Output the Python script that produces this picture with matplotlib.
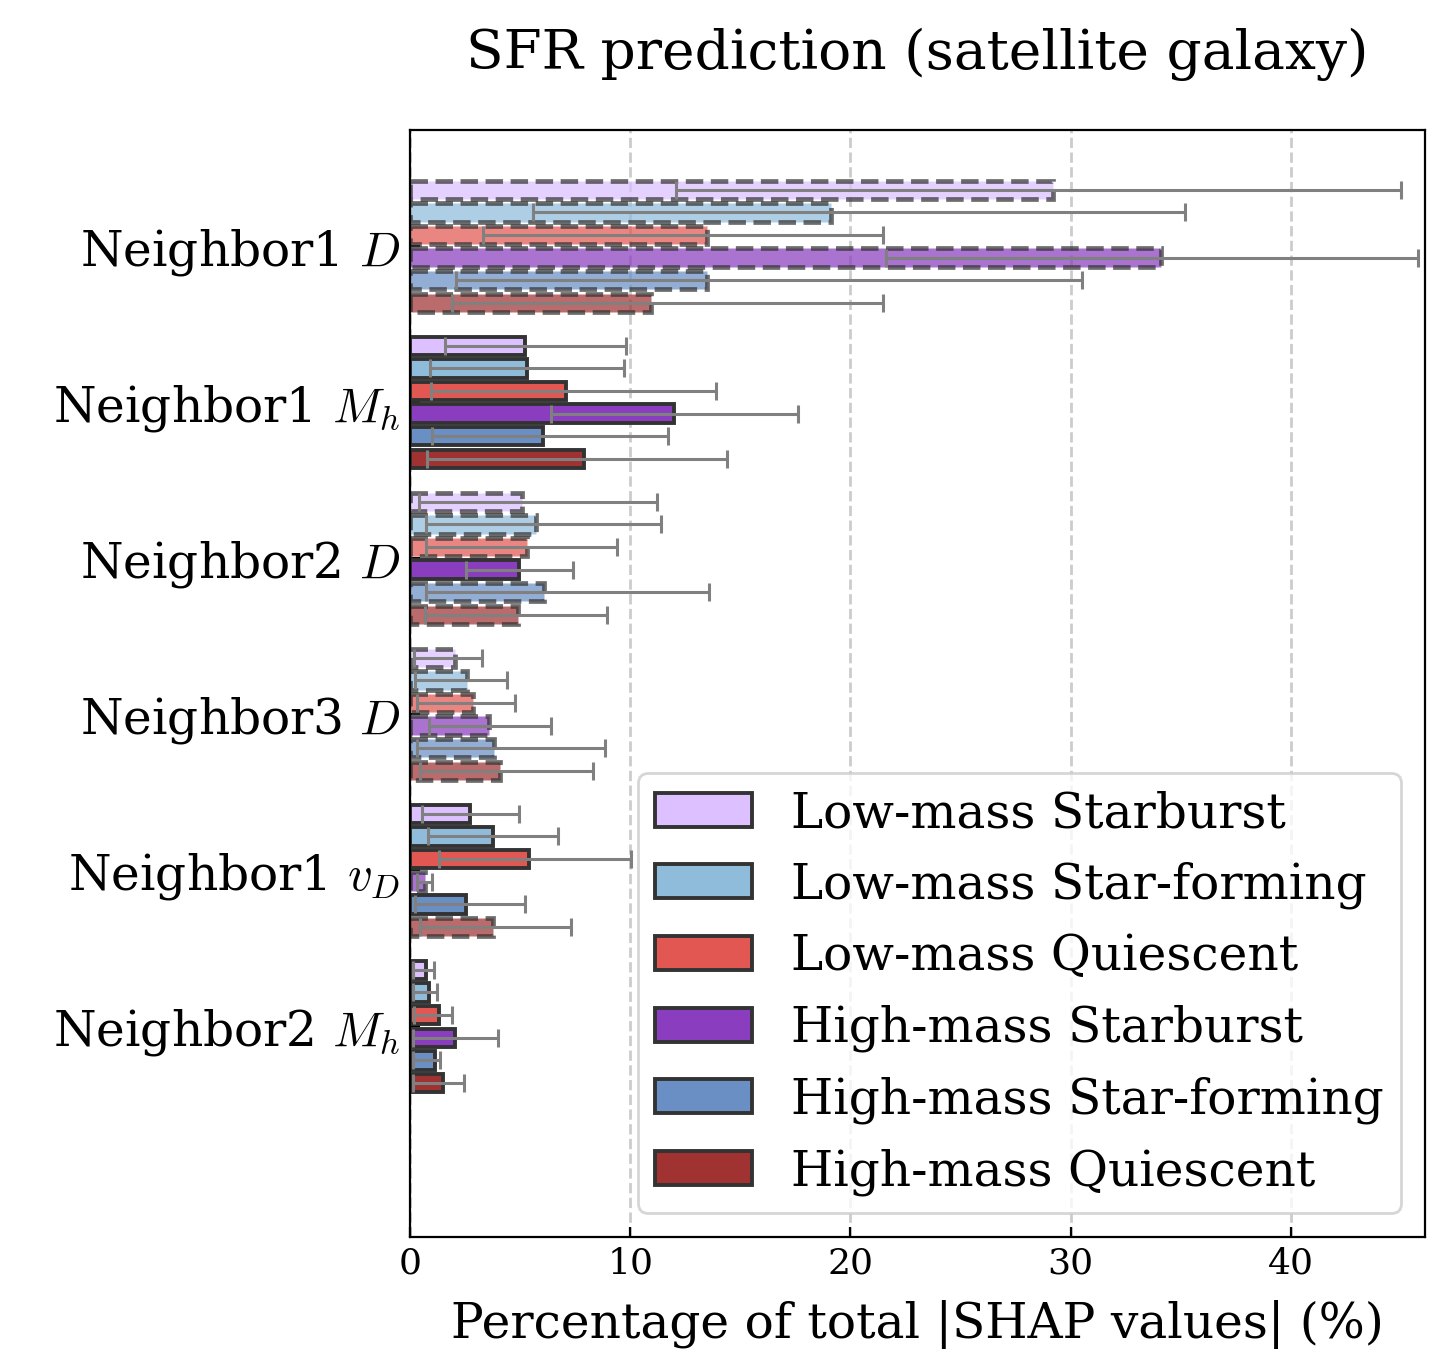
import numpy as np
import matplotlib
matplotlib.use('Agg')
import matplotlib.pyplot as plt

# --------------------------------------------------------------------------------------------#
# Data.
# --------------------------------------------------------------------------------------------#
Features = ['Neighbor1 $D$', 'Neighbor1 $M_h$', 'Neighbor2 $D$',
            'Neighbor3 $D$', 'Neighbor1 $v_D$', 'Neighbor2 $M_h$']
Classes = ['Low-mass Starburst', 'Low-mass Star-forming', 'Low-mass Quiescent',
           'High-mass Starburst', 'High-mass Star-forming', 'High-mass Quiescent']
Colors = ['#dcc0ff', '#8fbcdb', '#e35752', '#8a3dbf', '#6a8fc4', '#a03232']

# Bar values (%), one row per class, one column per feature.
Values = np.array([
    [29.2, 5.2, 5.1, 2.05, 2.7, 0.73],
    [19.1, 5.3, 5.7, 2.6, 3.75, 0.85],
    [13.5, 7.1, 5.3, 2.85, 5.4, 1.3],
    [34.1, 12.0, 4.95, 3.6, 0.68, 2.05],
    [13.5, 6.05, 6.1, 3.8, 2.55, 1.15],
    [10.95, 7.9, 4.9, 4.1, 3.75, 1.48],
])
# Lower and upper ends of the error bars (%).
Lower = np.array([
    [12.1, 1.6, 0.4, 0.18, 0.53, 0.15],
    [5.6, 0.9, 0.73, 0.23, 0.83, 0.15],
    [3.3, 0.95, 0.73, 0.33, 1.32, 0.2],
    [21.6, 6.4, 2.55, 0.88, 0.3, 0.15],
    [2.1, 1.0, 0.73, 0.3, 0.23, 0.15],
    [1.9, 0.75, 0.7, 0.45, 0.45, 0.15],
])
Upper = np.array([
    [45.0, 9.8, 11.2, 3.26, 4.96, 1.1],
    [35.2, 9.7, 11.4, 4.4, 6.74, 1.24],
    [21.5, 13.9, 9.4, 4.77, 10.05, 1.9],
    [45.8, 17.6, 7.4, 6.4, 1.0, 4.0],
    [30.5, 11.7, 13.6, 8.86, 5.23, 1.36],
    [21.5, 14.4, 8.96, 8.3, 7.3, 2.47],
])
# Bars drawn faded with a dashed outline.
Dashed = np.array([
    [1, 0, 1, 1, 0, 0],
    [1, 0, 1, 1, 0, 0],
    [1, 0, 1, 1, 0, 0],
    [1, 0, 0, 1, 1, 0],
    [1, 0, 1, 1, 0, 0],
    [1, 0, 1, 1, 1, 0],
], dtype=bool)

# --------------------------------------------------------------------------------------------#
# Plot.
# --------------------------------------------------------------------------------------------#
plt.rcParams['font.family'] = 'DejaVu Serif'
plt.rcParams['mathtext.fontset'] = 'cm'

fig = plt.figure(figsize=(7.25, 6.745), dpi=200)
ax = fig.add_axes([0.2828, 0.0830, 0.7000, 0.8206])

Step = 0.145
Height = 0.118
yBase = np.arange(len(Features))

for k in range(len(Classes)):
    yPos = yBase - 2.5 * Step + k * Step
    for j in range(len(Features)):
        if Dashed[k, j]:
            ax.barh(yPos[j], Values[k, j], height=Height, color=Colors[k],
                    edgecolor='#333333', linewidth=1.7, linestyle='--', alpha=0.72, zorder=2)
        else:
            ax.barh(yPos[j], Values[k, j], height=Height, color=Colors[k],
                    edgecolor='#333333', linewidth=1.4, zorder=2)
    xErr = [Values[k] - Lower[k], Upper[k] - Values[k]]
    ax.errorbar(Values[k], yPos, xerr=xErr, fmt='none', ecolor='gray',
                elinewidth=1.1, capsize=3.4, capthick=1.1, zorder=3)
    # Legend proxy.
    ax.barh(np.nan, np.nan, color=Colors[k], edgecolor='#333333', linewidth=1.4, label=Classes[k])

ax.set_yticks(yBase)
ax.set_yticklabels(Features, fontsize=17.5)
ax.set_ylim(6.35, -0.745)
ax.set_xlim(0, 46.1)
ax.set_xticks([0, 10, 20, 30, 40])
ax.tick_params(axis='x', labelsize=13, direction='in')
ax.tick_params(axis='y', direction='in')
ax.grid(axis='x', linestyle='--', color='#cccccc', linewidth=1.0, zorder=0)
ax.set_axisbelow(True)

ax.set_xlabel('Percentage of total |SHAP values| (%)', fontsize=17.5, labelpad=7)
ax.set_title('SFR prediction (satellite galaxy)', fontsize=19.8, pad=22)
ax.legend(loc='lower right', fontsize=17.5, labelspacing=0.5, handlelength=2.0,
          handleheight=0.7, borderpad=0.35)

fig.savefig('out.png', dpi=200)
